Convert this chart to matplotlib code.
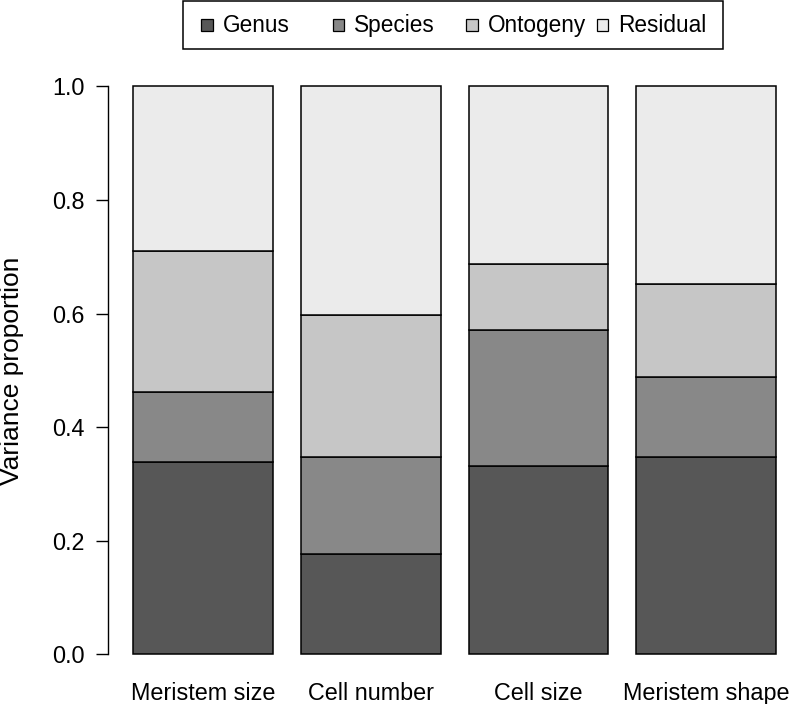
import numpy as np
import matplotlib
matplotlib.use("Agg")
import matplotlib.pyplot as plt
from matplotlib.patches import Rectangle

plt.rcParams["font.family"] = ["Liberation Sans", "DejaVu Sans"]

# data
traits = ["Meristem size", "Cell number", "Cell size", "Meristem shape"]
components = ["Genus", "Species", "Ontogeny", "Residual"]
genus = [0.339, 0.177, 0.332, 0.348]
species = [0.123, 0.171, 0.239, 0.140]
ontogeny = [0.249, 0.250, 0.116, 0.164]
residual = [0.289, 0.402, 0.313, 0.348]
colors = ["#575757", "#888888", "#c6c6c6", "#ebebeb"]

W, H = 789, 704
fig = plt.figure(figsize=(W / 100, H / 100), dpi=100)

# axes placed in pixel terms (R barplot style: width 1, space 0.2)
left_px, right_px = 108, 789
bot_px, top_px = 677.2, 63.6
ax = fig.add_axes([left_px / W, (H - bot_px) / H,
                   (right_px - left_px) / W, (bot_px - top_px) / H])

x = 0.7 + 1.2 * np.arange(len(traits))
bottom = np.zeros(len(traits))
for vals, col, lab in zip([genus, species, ontogeny, residual], colors, components):
    ax.bar(x, vals, width=1.0, bottom=bottom, color=col, edgecolor="black",
           linewidth=1.1, label=lab)
    bottom += np.array(vals)

ax.set_xlim(0.019, 4.893)
ax.set_ylim(-0.04, 1.04)

for s in ["top", "right", "bottom"]:
    ax.spines[s].set_visible(False)
ax.spines["left"].set_bounds(0, 1)
ax.spines["left"].set_linewidth(1.0)

ax.set_yticks([0, 0.2, 0.4, 0.6, 0.8, 1.0])
ax.set_yticklabels(["0.0", "0.2", "0.4", "0.6", "0.8", "1.0"])
ax.tick_params(axis="y", length=8.4, width=1.0, pad=8.4, labelsize=16.8)
ax.set_xticks(x)
ax.set_xticklabels(traits)
ax.tick_params(axis="x", length=0, pad=3.8, labelsize=16.8)

fig.text(12 / W, 1 - 371 / H, "Variance proportion", rotation=90,
         ha="center", va="center", fontsize=19)

# legend drawn R-style: fixed slots in a box above the plot
box = Rectangle((182.7 / W, 1 - 49.3 / H), (722.7 - 182.7) / W, 48.3 / H,
                transform=fig.transFigure, facecolor="white",
                edgecolor="black", linewidth=1.1)
fig.patches.append(box)
sq_left = [201, 332.7, 466, 596.7]
for xl, col, lab in zip(sq_left, colors, components):
    sq = Rectangle((xl / W, 1 - 30.5 / H), 11.7 / W, 11.7 / H,
                   transform=fig.transFigure, facecolor=col,
                   edgecolor="black", linewidth=0.9)
    fig.patches.append(sq)
    fig.text((xl + 21.5) / W, 1 - 32.3 / H, lab, ha="left", va="baseline",
             fontsize=16.3)

fig.savefig("out.png", dpi=100)
